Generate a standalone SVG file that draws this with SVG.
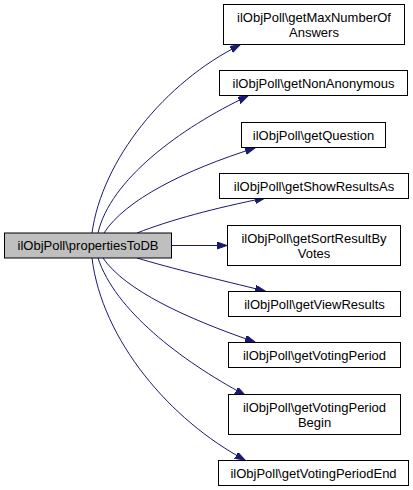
<svg xmlns="http://www.w3.org/2000/svg" width="413" height="490" viewBox="0 0 413 490">
<style>
.n rect{fill:#ffffff;stroke:#000000;stroke-width:1}
.m rect{fill:#bfbfbf;stroke:#000000;stroke-width:1}
text{font-family:"Liberation Sans",Arial,Helvetica,sans-serif;font-size:13px;fill:#000;text-anchor:middle}
.e path{fill:none;stroke:#191970;stroke-width:1;marker-end:url(#ah)}
</style>
<defs>
<marker id="ah" markerUnits="userSpaceOnUse" markerWidth="11" markerHeight="8" refX="10" refY="3.5" orient="auto">
<path d="M0,0 L10,3.5 L0,7 z" fill="#191970" stroke="#191970" stroke-width="1"/>
</marker>
</defs>
<rect width="413" height="490" fill="#ffffff"/>
<g class="e" id="edges">
<path d="M92,233 C102,160 165,82 240,45"/>
<path d="M98,233 C110,180 180,128 248,96"/>
<path d="M104,233 C125,200 185,170 255,148"/>
<path d="M137,233 C170,220 215,208 265,198"/>
<path d="M171,245.5 L227,245.5"/>
<path d="M137,258 C170,268 220,280 265,291"/>
<path d="M103,258 C125,290 185,318 255,342"/>
<path d="M98,258 C115,310 180,360 245,395"/>
<path d="M92,258 C102,340 170,420 245,460"/>
</g>
<g class="m" id="main"><rect x="4.5" y="233" width="167" height="25"/><text x="88" y="250">ilObjPoll\propertiesToDB</text></g>
<g class="n" id="n1"><rect x="223.5" y="4.5" width="181" height="40"/><text x="314" y="22">ilObjPoll\getMaxNumberOf</text><text x="314" y="37">Answers</text></g>
<g class="n" id="n2"><rect x="219.5" y="70.5" width="188" height="25"/><text x="313.5" y="87.5">ilObjPoll\getNonAnonymous</text></g>
<g class="n" id="n3"><rect x="241.5" y="122.5" width="144" height="25"/><text x="313.5" y="139.5">ilObjPoll\getQuestion</text></g>
<g class="n" id="n4"><rect x="219.5" y="173.5" width="189" height="25"/><text x="314" y="190.5">ilObjPoll\getShowResultsAs</text></g>
<g class="n" id="n5"><rect x="227.5" y="225.5" width="173" height="40"/><text x="314" y="243">ilObjPoll\getSortResultBy</text><text x="314" y="258">Votes</text></g>
<g class="n" id="n6"><rect x="228.5" y="291.5" width="172" height="25"/><text x="314.5" y="308.5">ilObjPoll\getViewResults</text></g>
<g class="n" id="n7"><rect x="228.5" y="342.5" width="172" height="25"/><text x="314.5" y="359.5">ilObjPoll\getVotingPeriod</text></g>
<g class="n" id="n8"><rect x="228.5" y="394.5" width="172" height="40"/><text x="314.5" y="412">ilObjPoll\getVotingPeriod</text><text x="314.5" y="427">Begin</text></g>
<g class="n" id="n9"><rect x="218.5" y="460.5" width="190" height="25"/><text x="313.5" y="477.5">ilObjPoll\getVotingPeriodEnd</text></g>
</svg>
